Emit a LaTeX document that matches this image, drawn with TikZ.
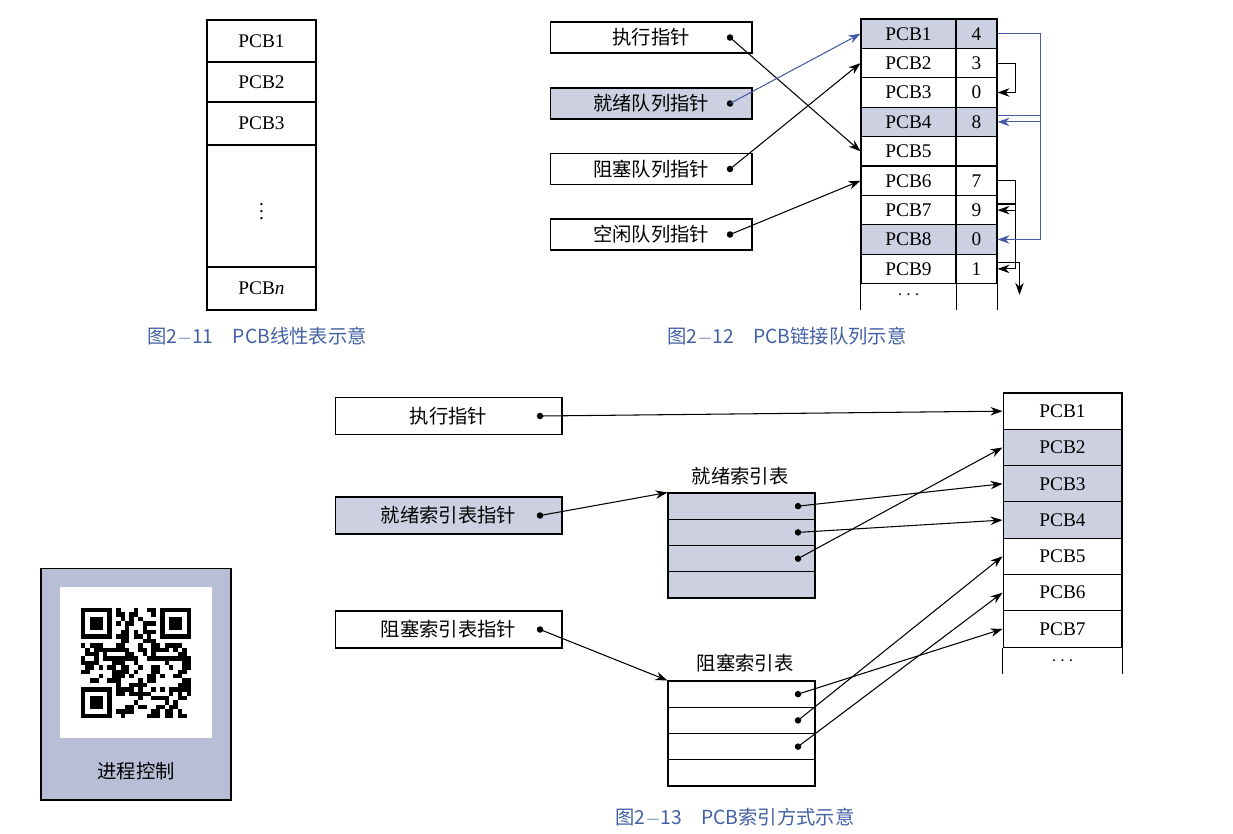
\documentclass[tikz,border=0pt]{standalone}
\usepackage{fontspec}
\setmainfont{Liberation Serif}
\newfontfamily\cjk{Noto Sans CJK SC}
\usetikzlibrary{arrows.meta,positioning,calc}
\definecolor{cellgray}{RGB}{205,208,225}
\definecolor{capblue}{RGB}{66,96,165}
\definecolor{linkblue}{RGB}{72,90,165}
\definecolor{qrback}{RGB}{185,190,215}

\begin{document}
\begin{tikzpicture}[x=0.02cm, y=-0.02cm, >={Stealth[length=2.4mm, width=1.7mm]}, line width=0.6pt,
	every node/.style = {font=\fontsize{11}{13}\selectfont},
	cell/.style = {draw, rectangle, inner sep=0pt, anchor=center},
	lin/.style = {cell, minimum width=2.18cm},
	ptra/.style = {cell, minimum width=4.04cm, minimum height=0.62cm},
	pcba/.style = {cell, minimum width=1.9cm, minimum height=0.588cm},
	vala/.style = {cell, minimum width=0.82cm, minimum height=0.588cm},
	ptrb/.style = {cell, minimum width=4.54cm, minimum height=0.74cm},
	pcbb/.style = {cell, minimum width=2.38cm, minimum height=0.726cm},
	idx/.style = {cell, minimum width=2.94cm, minimum height=0.525cm},
	shade/.style = {fill=cellgray},
	dot/.style = {circle, fill, inner sep=0pt, minimum size=0.13cm},
	capt/.style = {text=capblue, font=\fontsize{11}{13}\selectfont\cjk}]
\useasboundingbox (0,0) rectangle (1233,833);

% figure 2-11
\node[lin, minimum height=0.84cm] (l1) at (261.5,41) {PCB1};
\node[lin, minimum height=0.8cm] (l2) at (261.5,82) {PCB2};
\node[lin, minimum height=0.86cm] (l3) at (261.5,123.5) {PCB3};
\node[lin, minimum height=2.44cm] (ld) at (261.5,206) {$\vdots$};
\node[lin, minimum height=0.86cm] (ln) at (261.5,288.5) {PCB\textit{n}};
\node[capt] (c11) at (257,336) {图2$-$11\quad PCB线性表示意};

% figure 2-12
\node[ptra] (run) at (651,37.5) {\cjk 执行指针\hspace{1.2em}};
\node[ptra, shade] (rdy) at (651,103.5) {\cjk 就绪队列指针\hspace{1.2em}};
\node[ptra] (blk) at (651,169) {\cjk 阻塞队列指针\hspace{1.2em}};
\node[ptra] (fre) at (651,234.5) {\cjk 空闲队列指针\hspace{1.2em}};
\foreach \p in {run, rdy, blk, fre}
	\node[dot] (\p d) at ($(\p.center)+(79,0)$) {};
\foreach \i/\v in {1/4, 2/3, 3/0, 4/8, 5/{}, 6/7, 7/9, 8/0, 9/1} {
	\pgfmathsetmacro{\ry}{19+29.4*(\i-0.5)}
	\ifnum\i=1 \def\f{shade}\else\ifnum\i=4 \def\f{shade}\else\ifnum\i=8 \def\f{shade}\else\def\f{}\fi\fi\fi
	\node[pcba, \f] (p\i) at (908.5,\ry) {PCB\i};
	\node[vala, \f] (v\i) at (976.5,\ry) {\v};
}
\draw (p9.south west) -- ++(0,26) (p9.south east) -- ++(0,26) (v9.south east) -- ++(0,26);
\node at (908.5,295) {$\cdots$};
\draw[->] (rund.center) -- (p5.west);
\draw[->, linkblue] (rdyd.center) -- (p1.west);
\draw[->] (blkd.center) -- (p2.west);
\draw[->] (fred.center) -- (p6.west);
\draw[->] (v2.east) -- ++(18,0) |- (v3.east);
\draw[->] (v6.east) -- ++(18,0) |- (v7.east);
\draw[->] ($(v7.north east)!0.3!(v7.south east)$) -- ++(18,0) |- (v9.east);
\draw[->] ($(v9.north east)!0.3!(v9.south east)$) -- ++(22,0) -- ++(0,32);
\draw[->, linkblue] (v1.east) -- ++(43,0) |- (v4.east);
\draw[->, linkblue] ($(v4.north east)!0.3!(v4.south east)$) -- ++(43,0) |- (v8.east);
\node[capt] (c12) at (787,336) {图2$-$12\quad PCB链接队列示意};

% figure 2-13
\node[ptrb] (xrun) at (448.5,416) {\cjk 执行指针\hspace{1.2em}};
\node[ptrb, shade] (xrdy) at (448.5,515.5) {\cjk 就绪索引表指针\hspace{1.2em}};
\node[ptrb] (xblk) at (448.5,629.5) {\cjk 阻塞索引表指针\hspace{1.2em}};
\foreach \p in {xrun, xrdy, xblk}
	\node[dot] (\p d) at ($(\p.center)+(91.5,0)$) {};
\foreach \i in {1,...,7} {
	\pgfmathsetmacro{\ry}{393+36.3*(\i-0.5)}
	\ifnum\i<2 \def\f{}\else\ifnum\i<5 \def\f{shade}\else\def\f{}\fi\fi
	\node[pcbb, \f] (q\i) at (1062.5,\ry) {PCB\i};
}
\draw (q7.south west) -- ++(0,26) (q7.south east) -- ++(0,26);
\node at (1062.5,661) {$\cdots$};
\foreach \i in {1,...,4} {
	\node[idx, shade] (r\i) at (741.5,{493+26.25*(\i-0.5)}) {};
	\node[idx] (b\i) at (741.5,{681+26.25*(\i-0.5)}) {};
}
\foreach \i in {1,2,3} {
	\node[dot] (r\i d) at ($(r\i.center)+(56.5,0)$) {};
	\node[dot] (b\i d) at ($(b\i.center)+(56.5,0)$) {};
}
\node (rt) at (740,476) {\cjk 就绪索引表};
\node (bt) at (745,663) {\cjk 阻塞索引表};
\draw[->] (xrund.center) -- (q1.west);
\draw[->] (xrdyd.center) -- (r1.north west);
\draw[->] (xblkd.center) -- (b1.north west);
\draw[->] (r1d.center) -- (q3.west);
\draw[->] (r2d.center) -- (q4.west);
\draw[->] (r3d.center) -- (q2.west);
\draw[->] (b1d.center) -- (q7.west);
\draw[->] (b2d.center) -- (q5.west);
\draw[->] (b3d.center) -- (q6.west);
\node[capt] (c13) at (735,817) {图2$-$13\quad PCB索引方式示意};

% qr card
\node[draw, fill=qrback, minimum width=3.8cm, minimum height=4.64cm, inner sep=0pt] (card) at (136,684) {};
\node[fill=white, minimum width=3.04cm, minimum height=3.02cm, inner sep=0pt] (qr) at (136,662.5) {};
\node (qrt) at (136,771) {\cjk 进程控制};
\pgfmathsetseed{17}
\foreach \i in {0,...,24}
	\foreach \j in {0,...,24} {
		\pgfmathparse{rnd>0.5 ? 1 : 0}
		\ifnum\pgfmathresult=1 \fill (81+4.4*\i,608+4.4*\j) rectangle ++(4.4,4.4);\fi
	}
\foreach \x/\y in {81/608, 160.2/608, 81/687.2} {
	\fill[white] (\x-4.4,\y-4.4) rectangle ++(39.6,39.6);
	\fill (\x,\y) rectangle ++(30.8,30.8);
	\fill[white] (\x+4.4,\y+4.4) rectangle ++(22,22);
	\fill (\x+8.8,\y+8.8) rectangle ++(13.2,13.2);
}
\end{tikzpicture}
\end{document}
